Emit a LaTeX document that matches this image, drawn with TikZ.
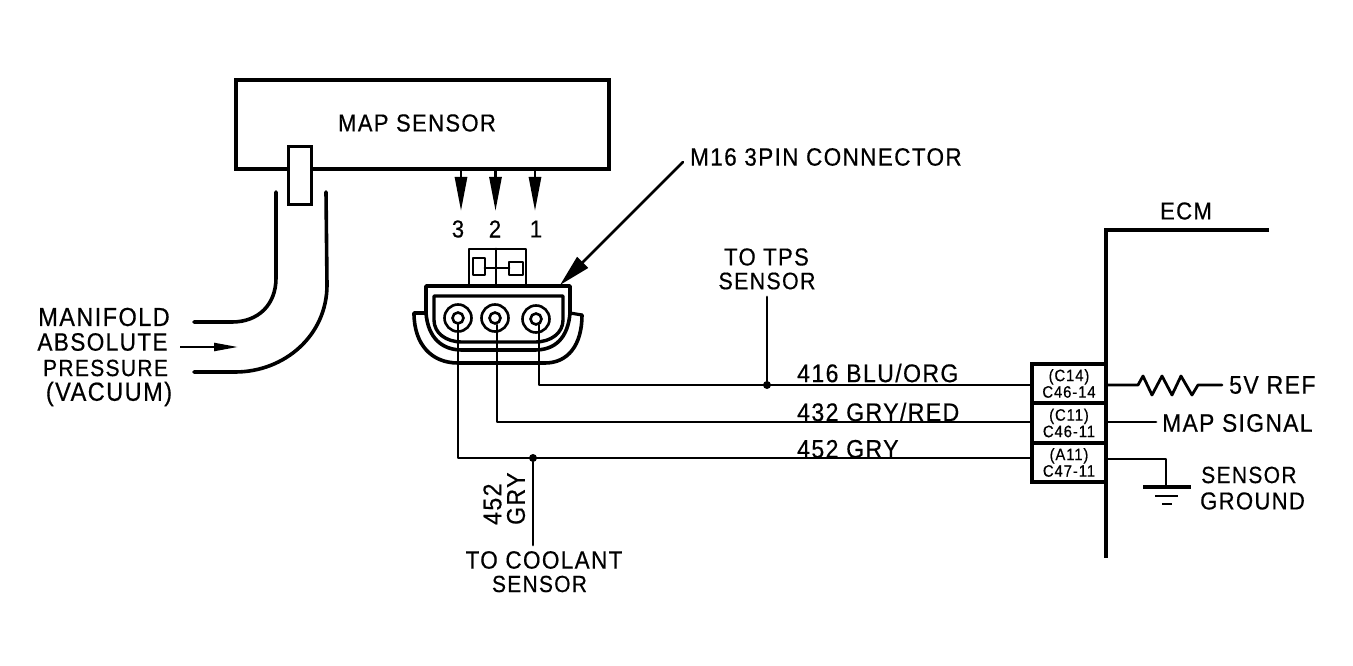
\documentclass[tikz,border=0pt]{standalone}
\usepackage{fontspec}
\setmainfont{Liberation Sans}
\usetikzlibrary{arrows.meta,calc}
\newfontfamily\dfont[LetterSpace=5.5,FakeStretch=0.9,FakeBold=0.5]{Liberation Sans}
\tikzset{
  x=1pt,y=-1pt,
  ln/.style={line width=2.8pt,line cap=round,line join=round},
  txt/.style={inner sep=0pt,font=\fontsize{24.5}{24.5}\dfont},
  sz/.style={font=\fontsize{#1}{#1}\dfont},
  pin/.style={draw=black,line width=3.6pt,fill=white,minimum width=74pt,minimum height=39pt,inner sep=0pt,align=center,font=\fontsize{16.5}{16.5}\dfont},
  jack/.style={circle,draw=black,line width=2.6pt,minimum size=27pt,inner sep=0pt,fill=white},
  jackin/.style={circle,draw=black,line width=2.6pt,minimum size=11pt,inner sep=0pt,fill=white},
  dot/.style={circle,fill=black,minimum size=8pt,inner sep=0pt},
  pinarrow/.style={ln,-{Stealth[length=34pt,width=12pt,inset=0pt]}},
}
\begin{document}
\begin{tikzpicture}
\useasboundingbox (0,0) rectangle (1353,666);
% sensor
\node[draw=black,line width=3.4pt,minimum width=373pt,minimum height=89pt,inner sep=0pt] (sensor) at (422.5,124.5) {};
\node[txt] (maplbl) at (417,123) {MAP SENSOR};
\node[draw=black,line width=3pt,fill=white,minimum width=23pt,minimum height=58pt,inner sep=0pt] (stub) at (300,176) {};
% tubes
\draw[line width=3.6pt,line cap=round] (276,192) -- (276,278) .. controls (276,305) and (258,322) .. (232,322) -- (194,322);
\draw[line width=3.6pt,line cap=round] (326,192) -- (327,285) .. controls (327,335) and (285,372) .. (235,372) -- (194,372);
\coordinate (flowa) at (180,347);
\coordinate (flowb) at (238,347);
\draw[line width=2.2pt,-{Stealth[length=24pt,width=8pt,inset=0pt]}] (flowa) -- (flowb);
\node[txt,sz=26.1] (t1) at (104,317) {MANIFOLD};
\node[txt,sz=25.1] (t2) at (102.5,342) {ABSOLUTE};
\node[txt,sz=23.4] (t3) at (105.5,368) {PRESSURE};
\node[txt,sz=26.2] (t4) at (109,394) {(VACUUM)};
% pin arrows
\coordinate (a3) at (461,171); \coordinate (b3) at (461,211);
\coordinate (a2) at (495.5,171); \coordinate (b2) at (495.5,211);
\coordinate (a1) at (535,171); \coordinate (b1) at (535,211);
\draw[pinarrow] (a3) -- (b3);
\draw[pinarrow] (a2) -- (b2);
\draw[pinarrow] (a1) -- (b1);
\node[txt] (n3) at (458,229) {3};
\node[txt] (n2) at (495,229) {2};
\node[txt] (n1) at (536,229) {1};
% latch
\draw[ln] (469,285) -- (469,249) -- (526,249) -- (526,285);
\draw[ln] (496,249) -- (496,285);
\draw[ln] (485,258) -- (473,258) -- (473,275) -- (485,275) -- cycle;
\draw[ln] (509,262) -- (523,262) -- (523,275) -- (509,275) -- cycle;
\draw[ln] (485,268) -- (509,268);
% housing
\draw[line width=3.2pt,line join=round] (414,313) -- (426,313);
\draw[line width=3.2pt,line join=round] (570,313) -- (582,315);
\draw[line width=3.6pt,line join=round,line cap=round] (414,313) .. controls (414,345) and (432,363) .. (458,363) -- (545,363) .. controls (568,363) and (582,345) .. (582,315);
\draw[line width=3.6pt,line join=round] (426,286) -- (426,313) .. controls (428,338) and (442,350) .. (462,350) -- (535,350) .. controls (555,350) and (568,338) .. (570,313) -- (570,286) -- cycle;
\draw[line width=3.4pt,line join=round] (434,296) -- (434,320) .. controls (434,333) and (446,342) .. (462,342) -- (535,342) .. controls (551,342) and (563,333) .. (563,320) -- (563,296) -- cycle;
% jacks
\node[jack] (j3) at (458,318) {};
\node[jack] (j2) at (495,318) {};
\node[jack] (j1) at (536,319) {};
% pin boxes + ECM
\coordinate (ecma) at (1269,230);
\coordinate (ecmb) at (1106,230);
\coordinate (ecmc) at (1106,558);
\draw[line width=3.2pt,line join=miter] (ecma) -- (ecmb) -- (ecmc);
\node[txt] (ecm) at (1186,211) {ECM};
\node[pin] (c1) at (1069,383.5) {(C14)\\C46-14};
\node[pin] (c2) at (1069,423) {(C11)\\C46-11};
\node[pin] (c3) at (1069,462.5) {(A11)\\C47-11};
% wires
\coordinate (s1) at (539,325);
\coordinate (s2) at (497,325);
\draw[ln] (s1) |- (c1.west|-0,385) coordinate (w1);
\draw[ln] (s2) |- (c2.west|-0,422) coordinate (w2);
\draw[ln] (j3.center) |- (c3.west|-0,458) coordinate (w3);
\node[jackin] (k3) at (j3) {};
\node[jackin] (k2) at (j2) {};
\node[jackin] (k1) at (j1) {};
\node[dot] (d1) at (767,385) {};
\node[dot] (d2) at (533,458) {};
\node[txt] (tps1) at (766.5,257) {TO TPS};
\node[txt,sz=23.8] (tps2) at (767,281) {SENSOR};
\coordinate (tpsend) at (767,297);
\draw[ln] (d1) -- (tpsend);
\node[txt,sz=25] (cool1) at (544,560) {TO COOLANT};
\node[txt,sz=23.3] (cool2) at (539.5,584) {SENSOR};
\coordinate (coolend) at (533,545);
\draw[ln] (d2) -- (coolend);
\node[txt,sz=25.6,rotate=90,anchor=west] (g1) at (492.5,525) {452};
\node[txt,sz=25.6,rotate=90,anchor=west] (g2) at (516,525) {GRY};
\node[txt,sz=25.6,anchor=west] (l1) at (797,373) {416 BLU/ORG};
\node[txt,sz=25.6,anchor=west] (l2) at (797,412) {432 GRY/RED};
\node[txt,sz=25.6,anchor=west] (l3) at (797,449) {452 GRY};
% M16 arrow
\node[txt,sz=25,anchor=west] (m16) at (690,157) {M16 3PIN CONNECTOR};
\coordinate (m16a) at (683,162);
\coordinate (m16tip) at (560,285);
\draw[ln,-{Stealth[length=32pt,width=15pt,inset=0pt]}] (m16a) -- (m16tip);
% right side
\node[txt,sz=25.6,anchor=west] (ref) at (1229,385) {5V REF};
\node[txt,sz=25.3,anchor=west] (sig) at (1162,423) {MAP SIGNAL};
\node[txt,sz=23.4,anchor=west] (sg1) at (1201,475) {SENSOR};
\node[txt,anchor=west] (sg2) at (1200,501) {GROUND};
\coordinate (refend) at (1222,385);
\coordinate (sigend) at (1156,422);
\draw[ln] (1106,385) -- (1138,385) -- (1143,376) -- (1152,395) -- (1162,376) -- (1172,395) -- (1181,376) -- (1192,395) -- (1198,385) -- (refend);
\draw[ln] (1106,422) -- (sigend);
\coordinate (gnd) at (1166,487);
\draw[ln] (1106,459) -- (1166,459) -- (gnd);
\draw[line width=4pt] (1143,487) -- (1191,487);
\draw[line width=2.6pt] (1155,496) -- (1178,496);
\draw[line width=2.6pt] (1162,504) -- (1172,504);
\end{tikzpicture}
\end{document}
